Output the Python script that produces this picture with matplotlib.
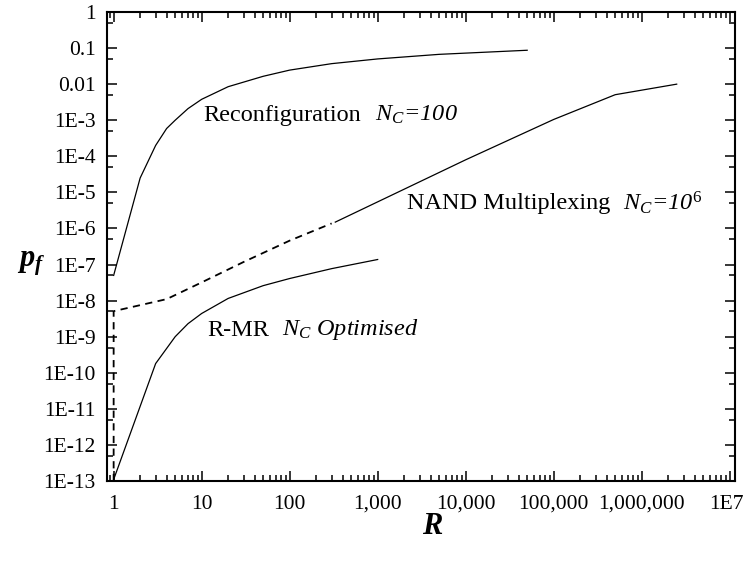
import numpy as np
import matplotlib
matplotlib.use("Agg")
import matplotlib.pyplot as plt
from matplotlib.ticker import LogLocator, FixedLocator, FixedFormatter, NullFormatter

plt.rcParams['font.family'] = ['Liberation Serif', 'DejaVu Serif']
plt.rcParams['mathtext.fontset'] = 'custom'
plt.rcParams['mathtext.rm'] = 'Liberation Serif'
plt.rcParams['mathtext.it'] = 'Liberation Serif:italic'
plt.rcParams['mathtext.bf'] = 'Liberation Serif:bold'
plt.rcParams['mathtext.bfit'] = 'Liberation Serif:bold:italic'

# Reconfiguration, N_C = 100
R_reconf = [1, 2, 3, 4, 5, 7, 10, 20, 50, 100, 300, 1000, 5000, 50000]
pf_reconf = [5e-8, 2.5e-5, 2.0e-4, 5.9e-4, 1.0e-3, 2.1e-3, 3.8e-3, 8.5e-3,
             1.65e-2, 2.45e-2, 3.7e-2, 5.0e-2, 6.7e-2, 8.7e-2]

# NAND multiplexing, N_C = 10^6 (dashed part then solid part)
R_nand_dash = [1, 1, 4, 10, 30, 100, 300]
pf_nand_dash = [1e-13, 5.1e-9, 1.1e-8, 3.2e-8, 1.18e-7, 4.6e-7, 1.38e-6]
R_nand = [330, 1e4, 1e5, 5e5, 2.5e6]
pf_nand = [1.5e-6, 8e-5, 1.05e-3, 5.1e-3, 1.0e-2]

# R-MR, N_C optimised
R_rmr = [1, 3, 5, 7, 10, 20, 50, 100, 300, 1000]
pf_rmr = [1.1e-13, 1.8e-10, 1.0e-9, 2.3e-9, 4.4e-9, 1.15e-8, 2.6e-8,
          4.1e-8, 7.7e-8, 1.38e-7]

x_ticks = [1, 10, 100, 1e3, 1e4, 1e5, 1e6, 1e7]
x_labels = ['1', '10', '100', '1,000', '10,000', '100,000', '1,000,000', '1E7']
y_ticks = [10.0 ** k for k in range(0, -14, -1)]
y_labels = ['1', '0.1', '0.01'] + ['1E-%d' % k for k in range(3, 14)]

fig = plt.figure(figsize=(7.45, 5.63), dpi=100)
ax = fig.add_axes([0.1436, 0.1456, 0.843, 0.8331])

ax.plot(R_reconf, pf_reconf, color='black', lw=0.9)
ax.plot(R_nand_dash, pf_nand_dash, color='black', lw=1.3, ls=(0, (4, 3)))
ax.plot(R_nand, pf_nand, color='black', lw=0.9)
ax.plot(R_rmr, pf_rmr, color='black', lw=0.9)

ax.set_xscale('log')
ax.set_yscale('log')
ax.set_xlim(0.84, 1.15e7)
ax.set_ylim(1e-13, 1)

# the last label (1E7) sits against the figure edge, drawn separately below
ax.xaxis.set_major_locator(FixedLocator(x_ticks))
ax.xaxis.set_major_formatter(FixedFormatter(x_labels[:-1] + ['']))
ax.xaxis.set_minor_locator(LogLocator(base=10, subs=np.arange(2, 10), numticks=20))
ax.xaxis.set_minor_formatter(NullFormatter())
ax.yaxis.set_major_locator(FixedLocator(y_ticks))
ax.yaxis.set_major_formatter(FixedFormatter(y_labels))
ax.yaxis.set_minor_locator(LogLocator(base=10, subs=[5], numticks=20))
ax.yaxis.set_minor_formatter(NullFormatter())

ax.tick_params(which='both', direction='in', top=True, right=True, width=1.1)
ax.tick_params(which='major', length=7.5, labelsize=15.5, pad=10)
ax.tick_params(which='minor', length=4.5)
ax.tick_params(axis='y', which='major', pad=8)
for s in ax.spines.values():
    s.set_linewidth(1.5)

fig.text(744 / 745, 1 - 495 / 563, x_labels[-1], fontsize=15.5,
         ha='right', va='top')

# curve labels: upright name, italic N_C part
def label(x_name, x_nc, y, name, nc):
    fig.text(x_name / 745, 1 - y / 563, name, fontsize=17.5,
             ha='left', va='center')
    fig.text(x_nc / 745, 1 - y / 563, nc, fontsize=17.5, style='italic',
             ha='left', va='center')

label(203, 375, 115, 'Reconfiguration', 'N$_C$=100')
label(407, 623, 203, 'NAND Multiplexing', r'N$_C$=10$^{\mathit{6}}$')
label(207, 282, 330, 'R-MR', 'N$_C$ Optimised')

fig.text(31 / 745, 1 - 264 / 563, r'$\mathbfit{p_f}$', fontsize=22,
         ha='center', va='center')
fig.text(433 / 745, 1 - 527 / 563, r'$\mathbfit{R}$', fontsize=22,
         ha='center', va='center')

fig.savefig('out.png', dpi=100)
